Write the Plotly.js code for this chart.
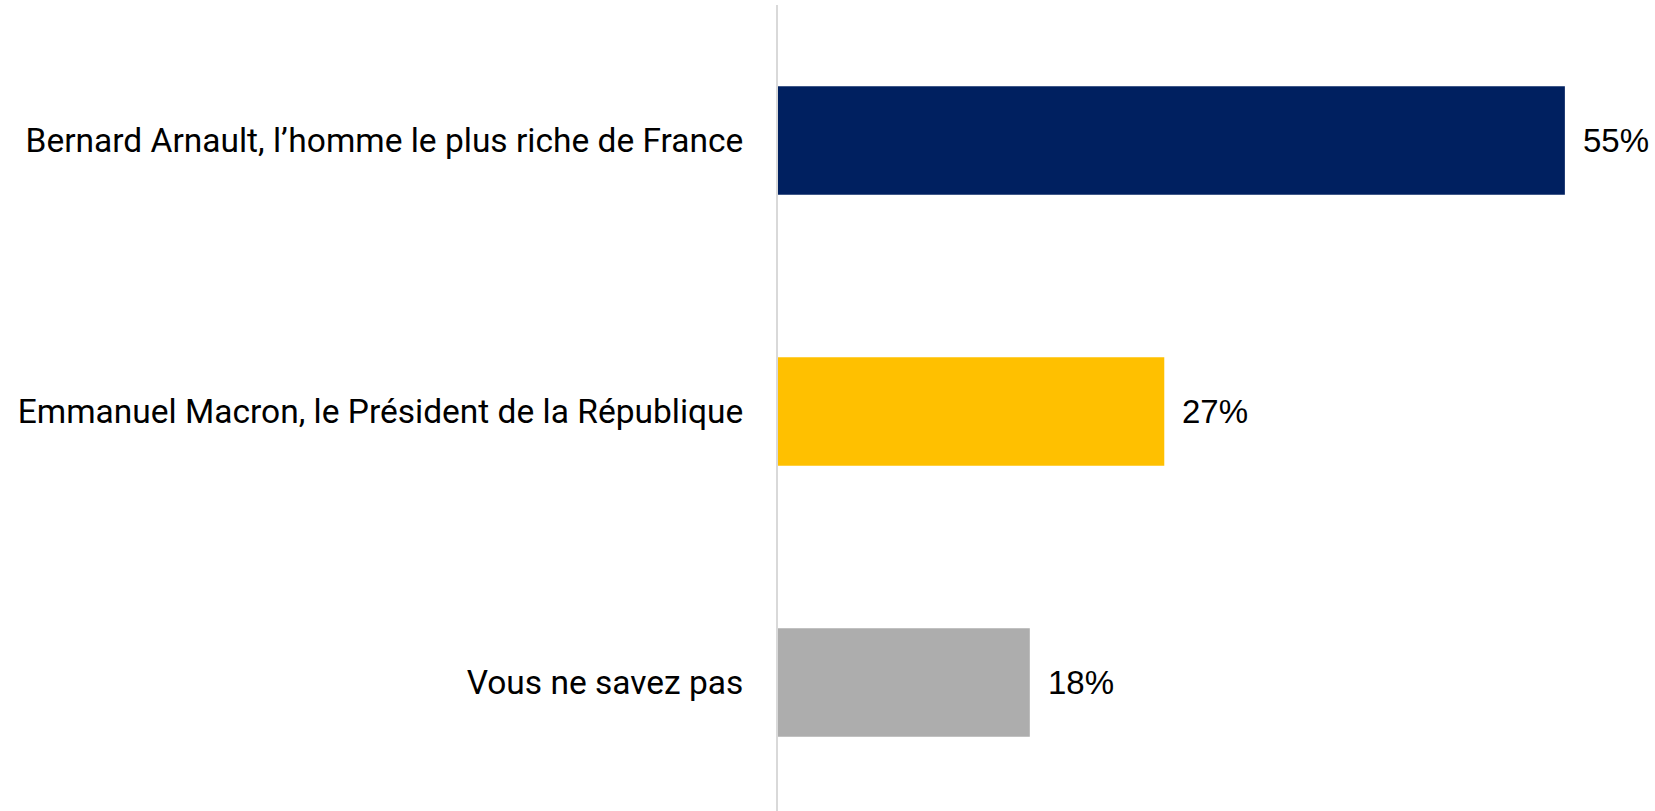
<!DOCTYPE html>
<html>
<head>
<meta charset="utf-8">
<script src="https://cdn.plot.ly/plotly-3.0.1.min.js"></script>
<style>html,body{margin:0;padding:0;background:#fff;}#chart{width:1655px;height:811px;}</style>
</head>
<body>
<div id="chart"></div>
<script>
const categories = [
  "Bernard Arnault, l\u2019homme le plus riche de France",
  "Emmanuel Macron, le Pr\u00e9sident de la R\u00e9publique",
  "Vous ne savez pas"
];
const values = [55, 27, 17.6];
const valueLabels = ["55%", "27%", "18%"];
const barColors = ["#002060", "#FFC000", "#ADADAD"];

const trace = {
  type: "bar",
  orientation: "h",
  y: categories,
  x: values,
  marker: {color: barColors, line: {width: 0}},
  width: 0.4,
  hoverinfo: "skip"
};

const annotations = categories.map((c, i) => ({
  x: values[i], y: c, xref: "x", yref: "y",
  text: valueLabels[i], showarrow: false,
  xanchor: "left", yanchor: "middle", xshift: 16,
  font: {family: "Liberation Sans, Arial, sans-serif", size: 33, color: "#000"}
}));

const layout = {
  width: 1655, height: 811,
  margin: {l: 778, r: 0, t: 5, b: 0, pad: 0},
  paper_bgcolor: "#fff", plot_bgcolor: "#fff",
  showlegend: false,
  xaxis: {range: [0, 61.3], visible: false, fixedrange: true},
  yaxis: {
    type: "category",
    range: [2.474, -0.5],
    showline: true, linecolor: "#D9D9D9", linewidth: 2,
    showgrid: false, zeroline: false,
    ticks: "", ticklabelstandoff: 26,
    tickfont: {family: "Roboto, sans-serif", size: 33.5, color: "#000"}
  },
  annotations: annotations
};

Plotly.newPlot("chart", [trace], layout, {displayModeBar: false, staticPlot: true});
</script>
</body>
</html>
